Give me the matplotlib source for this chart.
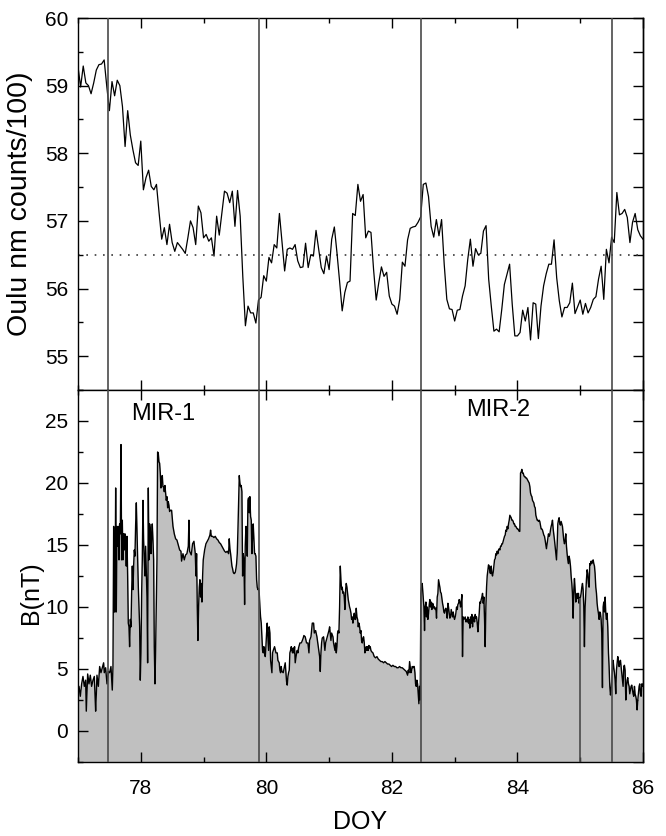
import numpy as np
import matplotlib
matplotlib.use("Agg")
import matplotlib.pyplot as plt
from matplotlib.ticker import MultipleLocator

plt.rcParams['font.family'] = ['Liberation Sans', 'DejaVu Sans']

# ---------------- data ----------------
# Oulu neutron monitor, hourly values starting at DOY 77.0 (counts/100)
oulu_start = 77.0
oulu_vals = [
    59.28, 58.98, 59.29, 59.04, 59.00, 58.88, 59.04, 59.23, 59.31, 59.32,
    59.38, 58.99, 58.63, 59.06, 58.85, 59.08, 59.00, 58.69, 58.10, 58.63,
    58.27, 58.05, 57.86, 57.82, 58.18, 57.46, 57.64, 57.75, 57.51, 57.46,
    57.54, 57.12, 56.73, 56.90, 56.65, 56.95, 56.68, 56.55, 56.68, 56.63,
    56.58, 56.52, 56.75, 57.00, 56.90, 56.65, 57.22, 57.12, 56.75, 56.80,
    56.70, 56.75, 56.48, 57.07, 56.79, 57.12, 57.44, 57.41, 57.27, 57.44,
    56.92, 57.45, 57.07, 56.18, 55.45, 55.74, 55.64, 55.64, 55.49, 55.83,
    55.87, 56.19, 56.11, 56.46,
    56.38, 56.65, 56.60, 57.11, 56.68, 56.26, 56.58, 56.60, 56.58, 56.65,
    56.41, 56.31, 56.32, 56.67, 56.31, 56.50, 56.48, 56.86, 56.58, 56.31,
    56.22, 56.48, 56.28, 56.73, 56.91, 56.53, 56.11, 55.67, 55.94, 56.09,
    56.11, 57.11, 57.08, 57.54, 57.29, 57.39, 56.75, 56.85, 56.83, 56.28,
    55.83, 56.09, 56.32, 56.18, 56.24, 55.89, 55.77, 55.74, 55.62, 55.84,
    56.39, 56.33, 56.72, 56.89, 56.91, 56.92, 56.98, 57.06, 57.54, 57.56,
    57.36, 56.92, 56.76, 57.02, 56.78, 57.02, 56.36, 55.84, 55.70, 55.69,
    55.52, 55.68, 55.69,
    55.89, 56.04, 56.43, 56.73, 56.33, 56.59, 56.50, 56.52, 56.85, 56.93,
    56.14, 55.74, 55.37, 55.40, 55.36, 55.69, 56.06, 56.21, 56.36, 55.77,
    55.30, 55.30, 55.35, 55.68, 55.52, 55.72, 55.24, 55.79, 55.77, 55.26,
    55.74, 56.04, 56.22, 56.36, 56.36, 56.72, 56.16, 55.82, 55.58, 55.72,
    55.72, 55.79, 56.08, 55.63, 55.73, 55.83, 55.62, 55.78, 55.64, 55.72,
    55.84, 55.88, 56.14, 56.33, 55.84, 56.58, 56.38, 56.76, 56.68, 57.42,
    57.09, 57.11, 57.17, 57.05, 56.68, 56.98, 57.11, 56.87, 56.78, 56.73,
]
oulu_ref = 56.5

# Magnetic field magnitude B (nT) versus DOY
b_doy = [
    77.000, 77.005, 77.016, 77.037, 77.058, 77.079, 77.101, 77.122, 77.132, 77.154,
    77.175, 77.196, 77.217, 77.239, 77.260, 77.281, 77.292, 77.302, 77.324, 77.345,
    77.366, 77.387, 77.408, 77.419, 77.440, 77.462, 77.483, 77.504, 77.525, 77.546,
    77.557, 77.568, 77.578, 77.589, 77.600, 77.610, 77.621, 77.631, 77.642, 77.653,
    77.663, 77.674, 77.685, 77.695, 77.706, 77.716, 77.727, 77.738, 77.748, 77.759,
    77.769, 77.780, 77.791, 77.801, 77.812, 77.822, 77.833, 77.844, 77.854, 77.865,
    77.876, 77.886, 77.897, 77.907, 77.918, 77.929, 77.939, 77.950, 77.961, 77.971,
    77.982, 77.992, 78.003, 78.014, 78.024, 78.035, 78.045, 78.056, 78.067, 78.077,
    78.088, 78.099, 78.109, 78.120, 78.130, 78.141, 78.152, 78.162, 78.173, 78.183,
    78.194, 78.205, 78.215, 78.226, 78.236, 78.247, 78.258, 78.268, 78.279, 78.290,
    78.300, 78.311, 78.321, 78.332, 78.343, 78.353, 78.364, 78.374, 78.385, 78.396,
    78.406, 78.417, 78.428, 78.438, 78.449, 78.459, 78.470, 78.491, 78.513, 78.534,
    78.555, 78.576, 78.597, 78.619, 78.640, 78.650, 78.672, 78.693, 78.714, 78.735,
    78.757, 78.767, 78.778,
    78.804, 78.825, 78.847, 78.868, 78.879, 78.889, 78.900, 78.910, 78.921, 78.932,
    78.942, 78.953, 78.963, 78.974, 78.985, 78.995, 79.017, 79.038, 79.059, 79.080,
    79.101, 79.112, 79.123, 79.144, 79.165, 79.186, 79.208, 79.229, 79.250, 79.271,
    79.293, 79.314, 79.335, 79.356, 79.377, 79.399, 79.409, 79.420, 79.431, 79.441,
    79.452, 79.462, 79.473, 79.484, 79.494, 79.505, 79.516, 79.526, 79.537, 79.547,
    79.558, 79.569, 79.579, 79.590, 79.600, 79.611, 79.622, 79.632, 79.643, 79.654,
    79.664, 79.675, 79.685, 79.696, 79.707, 79.717, 79.728, 79.738, 79.749, 79.760,
    79.770, 79.781, 79.791, 79.802, 79.813, 79.823, 79.834, 79.845, 79.855, 79.866,
    79.876, 79.887, 79.898, 79.908, 79.919, 79.930, 79.940, 79.951, 79.961, 79.972,
    79.983, 79.993, 80.004, 80.014, 80.025, 80.036, 80.046, 80.057, 80.068, 80.078,
    80.089, 80.099, 80.110, 80.131, 80.153, 80.174, 80.184, 80.205, 80.216, 80.227,
    80.237, 80.248, 80.269, 80.290, 80.301, 80.312, 80.322, 80.333, 80.344, 80.354,
    80.365, 80.375, 80.386, 80.397, 80.407, 80.418, 80.428, 80.439, 80.450, 80.460,
    80.471, 80.482, 80.492, 80.503, 80.513, 80.535, 80.556, 80.566, 80.588, 80.598,
    80.619, 80.641, 80.662,
    80.679, 80.689, 80.711, 80.732, 80.753, 80.764, 80.785, 80.806, 80.827, 80.849,
    80.859, 80.870, 80.880, 80.891, 80.912, 80.933, 80.944, 80.955, 80.976, 80.997,
    81.008, 81.018, 81.029, 81.040, 81.061, 81.071, 81.082, 81.093, 81.103, 81.114,
    81.125, 81.135, 81.146, 81.156, 81.167, 81.178, 81.188, 81.199, 81.209, 81.220,
    81.231, 81.241, 81.252, 81.263, 81.273, 81.284, 81.294, 81.305, 81.316, 81.326,
    81.337, 81.348, 81.358, 81.369, 81.379, 81.390, 81.401, 81.411, 81.422, 81.432,
    81.443, 81.454, 81.464, 81.475, 81.486, 81.496, 81.507, 81.517, 81.528, 81.539,
    81.549, 81.560, 81.570, 81.581, 81.592, 81.602, 81.613, 81.624, 81.634, 81.645,
    81.655, 81.666, 81.677, 81.698, 81.719, 81.740, 81.762, 81.783, 81.804, 81.825,
    81.846, 81.868, 81.889, 81.910, 81.931, 81.953, 81.974, 81.995, 82.016, 82.038,
    82.059, 82.080, 82.101, 82.122, 82.144, 82.165, 82.186, 82.207, 82.229, 82.250,
    82.260, 82.271, 82.282, 82.292, 82.303, 82.314, 82.324, 82.335, 82.345, 82.356,
    82.367, 82.377, 82.388, 82.398, 82.409, 82.420, 82.430, 82.441, 82.451, 82.462,
    82.473, 82.483,
    82.510, 82.520, 82.531, 82.542, 82.552, 82.563, 82.573, 82.584, 82.595, 82.605,
    82.616, 82.626, 82.637, 82.648, 82.658, 82.669, 82.680, 82.690, 82.701, 82.711,
    82.722, 82.733, 82.743, 82.754, 82.764, 82.775, 82.786, 82.796, 82.807, 82.818,
    82.828, 82.839, 82.849, 82.860, 82.871, 82.881, 82.892, 82.902, 82.913, 82.924,
    82.934, 82.945, 82.956, 82.966, 82.977, 82.987, 82.998, 83.009, 83.019, 83.030,
    83.041, 83.051, 83.062, 83.072, 83.083, 83.094, 83.104, 83.115, 83.125, 83.136,
    83.147, 83.157, 83.168, 83.179, 83.189, 83.200, 83.210, 83.221, 83.232, 83.242,
    83.253, 83.263, 83.274, 83.285, 83.295, 83.306, 83.317, 83.327, 83.338, 83.348,
    83.359, 83.370, 83.380, 83.391, 83.401, 83.412, 83.423, 83.433, 83.444, 83.455,
    83.465, 83.476, 83.486, 83.497, 83.508, 83.518, 83.529, 83.539, 83.550, 83.561,
    83.571, 83.582, 83.593, 83.603, 83.614, 83.624, 83.635, 83.646, 83.656, 83.667,
    83.677, 83.688, 83.699, 83.709, 83.720, 83.731, 83.741, 83.752, 83.762, 83.773,
    83.784, 83.794, 83.805, 83.815, 83.826, 83.837, 83.847, 83.858, 83.869, 83.879,
    83.890, 83.900, 83.911, 83.922, 83.932, 83.943, 83.953, 83.964, 83.975, 83.985,
    83.996, 84.007, 84.017, 84.028, 84.038, 84.049, 84.060, 84.070, 84.081, 84.092,
    84.102, 84.113, 84.123, 84.134, 84.145, 84.155, 84.166, 84.176, 84.187, 84.198,
    84.208, 84.219, 84.230, 84.240, 84.251, 84.261, 84.272, 84.283, 84.293, 84.304,
    84.314,
    84.324, 84.335, 84.346, 84.356, 84.367, 84.377, 84.388, 84.399, 84.409, 84.420,
    84.431, 84.441, 84.452, 84.462, 84.473, 84.484, 84.494, 84.505, 84.515, 84.526,
    84.537, 84.547, 84.558, 84.569, 84.579, 84.590, 84.600, 84.611, 84.622, 84.632,
    84.643, 84.653, 84.664, 84.675, 84.685, 84.696, 84.707, 84.717, 84.728, 84.738,
    84.749, 84.760, 84.770, 84.781, 84.791, 84.802, 84.813, 84.823, 84.834, 84.845,
    84.855, 84.866, 84.876, 84.887, 84.898, 84.908, 84.919, 84.929, 84.940, 84.951,
    84.961, 84.972, 84.983, 84.993, 85.004, 85.014, 85.025, 85.036, 85.046, 85.057,
    85.067, 85.078, 85.089, 85.099, 85.110, 85.120, 85.131, 85.142, 85.152, 85.163,
    85.174, 85.184, 85.195, 85.206, 85.216, 85.227, 85.237, 85.248, 85.259, 85.269,
    85.280, 85.290, 85.301, 85.312, 85.322, 85.333, 85.343, 85.354, 85.365, 85.375,
    85.386, 85.397, 85.407, 85.418, 85.428, 85.439, 85.450, 85.460, 85.471, 85.482,
    85.492, 85.503, 85.513, 85.524, 85.535, 85.545, 85.556, 85.566, 85.577, 85.588,
    85.598, 85.609, 85.619, 85.630, 85.641, 85.651, 85.662, 85.673, 85.683, 85.694,
    85.704, 85.715, 85.726, 85.736, 85.747, 85.757, 85.768, 85.779, 85.789, 85.800,
    85.810, 85.821, 85.832, 85.842, 85.853, 85.864, 85.874, 85.885, 85.895, 85.906,
    85.917, 85.927, 85.938, 85.948, 85.959, 85.970, 85.980, 85.991, 86.002,
]
b_nt = [
    4.8, 3.6, 3.6, 2.8, 3.8, 4.4, 3.6, 4.1, 1.6, 4.6,
    3.8, 4.5, 3.6, 4.1, 4.4, 1.6, 3.0, 4.5, 3.6, 5.2,
    4.7, 5.1, 5.5, 4.7, 5.1, 3.8, 4.8, 4.7, 5.2, 3.3,
    5.2, 16.5, 9.6, 9.6, 19.6, 9.6, 16.5, 14.9, 16.5, 13.8,
    16.7, 15.9, 23.1, 13.8, 17.0, 13.8, 15.9, 14.6, 15.9, 15.1,
    13.3, 15.7, 12.5, 8.7, 8.4, 6.8, 9.0, 8.4, 11.1, 13.3,
    11.4, 13.3, 14.6, 14.1, 16.6, 18.4, 16.2, 13.8, 11.6, 10.0,
    8.4, 4.1, 6.3, 11.1, 13.8, 18.6, 15.4, 13.8, 12.5, 14.9,
    13.0, 10.8, 5.5, 19.6, 13.8, 16.7, 16.2, 14.3, 15.7, 16.7,
    15.4, 13.8, 6.8, 3.8, 6.5, 10.0, 13.8, 22.5, 22.4, 21.7,
    21.6, 20.8, 19.6, 20.5, 20.6, 19.7, 19.7, 19.3, 19.8, 19.2,
    18.6, 18.9, 18.0, 18.5, 18.2, 17.7, 17.8, 17.8, 16.5, 15.9,
    15.5, 15.4, 15.0, 14.6, 14.5, 13.7, 14.3, 13.8, 14.2, 14.3,
    14.9, 17.0, 14.5,
    14.2, 15.1, 15.3, 14.3, 12.5, 14.3, 10.0, 7.3, 10.0, 11.6,
    12.2, 10.8, 11.9, 10.4, 12.5, 13.8, 14.6, 15.1, 15.3, 15.5,
    15.8, 16.2, 15.7, 15.7, 15.6, 15.7, 15.5, 15.4, 15.2, 15.1,
    14.9, 14.7, 14.5, 14.4, 14.5, 14.3, 15.5, 14.7, 14.3, 13.8,
    13.3, 13.1, 12.8, 12.7, 12.7, 12.8, 13.1, 13.5, 14.3, 16.1,
    18.4, 20.6, 20.0, 19.7, 19.8, 19.3, 12.5, 14.3, 13.8, 10.2,
    14.9, 16.5, 16.2, 14.1, 18.6, 18.8, 17.6, 18.9, 17.3, 17.0,
    14.3, 15.7, 16.7, 15.4, 14.3, 14.3, 14.1, 12.2, 11.6, 11.4,
    11.5, 11.1, 10.0, 9.2, 8.7, 7.6, 6.5, 6.3, 6.8, 6.3,
    6.0, 6.8, 7.9, 8.7, 7.6, 6.5, 8.4, 7.9, 5.7, 5.2,
    4.7, 6.3, 6.5, 6.8, 6.3, 6.3, 5.7, 5.5, 4.9, 4.7,
    5.2, 4.8, 4.7, 5.2, 5.5, 4.7, 4.0, 3.7, 4.4, 4.7,
    4.9, 6.3, 6.5, 6.8, 6.5, 6.3, 6.7, 6.3, 6.8, 5.5,
    5.9, 6.3, 6.5, 6.3, 6.7, 7.1, 7.1, 7.2, 7.5, 7.7,
    7.6, 7.1, 7.1,
    6.3, 7.3, 7.6, 8.7, 8.7, 7.9, 8.1, 7.6, 6.8, 6.0,
    4.8, 6.3, 7.1, 7.5, 7.6, 6.5, 7.1, 7.3, 7.7, 8.1,
    8.4, 7.9, 7.3, 7.9, 7.6, 7.1, 6.8, 6.5, 7.1, 6.3,
    6.8, 7.9, 8.1, 7.9, 10.0, 13.3, 12.2, 11.4, 11.6, 11.1,
    11.2, 10.8, 9.8, 11.4, 11.9, 11.6, 11.1, 10.6, 10.3, 10.0,
    9.8, 9.5, 9.0, 9.2, 8.7, 9.2, 9.5, 9.0, 9.0, 9.9,
    9.2, 9.0, 8.4, 8.7, 8.4, 7.9, 8.1, 7.3, 7.1, 7.5,
    7.6, 7.1, 6.3, 6.5, 6.8, 6.5, 6.8, 6.5, 6.9, 6.7,
    6.8, 6.5, 6.4, 6.3, 6.0, 5.9, 6.0, 5.8, 5.7, 5.6,
    5.6, 5.5, 5.6, 5.5, 5.4, 5.4, 5.3, 5.2, 5.3, 5.2,
    5.2, 5.1, 5.1, 5.2, 5.1, 5.1, 5.0, 4.9, 4.8, 4.5,
    4.9, 4.7, 5.6, 5.2, 4.7, 4.9, 5.2, 5.1, 5.2, 5.2,
    4.7, 3.8, 3.6, 4.1, 3.8, 3.0, 2.2, 3.6, 2.5, 11.1,
    11.6, 11.9,
    10.0, 8.1, 10.0, 10.4, 9.2, 10.0, 9.0, 9.5, 10.2, 10.6,
    10.0, 10.4, 9.8, 10.3, 10.2, 9.9, 10.0, 9.8, 9.9, 9.1,
    10.8, 11.1, 12.2, 11.9, 11.6, 11.2, 11.1, 10.7, 10.3, 10.0,
    9.6, 9.5, 9.8, 9.9, 9.6, 9.1, 10.3, 10.0, 9.5, 9.1,
    9.2, 9.8, 9.5, 9.2, 9.6, 9.2, 9.0, 9.2, 9.5, 10.0,
    9.8, 10.2, 10.3, 10.6, 10.4, 10.0, 10.4, 11.0, 6.0, 9.2,
    9.0, 9.1, 9.2, 8.8, 9.0, 8.8, 9.2, 8.7, 9.0, 8.3,
    9.2, 8.7, 9.4, 8.4, 9.0, 9.2, 8.8, 9.4, 9.1, 9.2,
    8.7, 8.0, 8.7, 9.5, 10.4, 10.3, 10.6, 10.8, 11.1, 10.3,
    10.8, 9.0, 6.8, 10.0, 11.6, 12.5, 13.0, 13.4, 13.3, 12.8,
    12.7, 13.3, 12.7, 12.5, 12.8, 13.3, 13.8, 13.9, 14.3, 14.2,
    14.5, 14.3, 14.6, 14.7, 14.6, 14.9, 14.9, 15.1, 15.1, 15.3,
    15.5, 15.7, 15.8, 16.2, 16.1, 16.5, 16.3, 16.7, 17.0, 17.4,
    17.3, 17.2, 17.0, 17.0, 16.9, 16.7, 16.7, 16.5, 16.5, 16.4,
    16.3, 16.3, 16.2, 16.1, 16.1, 20.8, 20.9, 21.1, 20.8, 20.8,
    20.6, 20.5, 20.5, 20.4, 20.4, 20.3, 20.2, 20.1, 20.0, 19.7,
    19.2, 19.0, 18.9, 18.6, 18.5, 18.4, 18.1, 18.0, 17.4, 17.2,
    17.0,
    17.0, 16.9, 17.0, 16.9, 16.6, 16.3, 16.3, 16.2, 16.0, 15.8,
    15.7, 15.4, 15.0, 14.7, 15.1, 15.5, 15.9, 15.7, 15.8, 16.2,
    16.5, 16.7, 17.0, 16.3, 15.9, 15.4, 14.9, 14.3, 13.8, 14.9,
    16.7, 17.0, 17.2, 16.7, 16.6, 16.9, 16.7, 16.5, 15.9, 15.4,
    15.1, 15.4, 15.9, 14.9, 14.3, 13.8, 13.5, 14.1, 13.8, 13.3,
    12.5, 11.9, 11.1, 9.1, 11.4, 12.3, 11.4, 10.4, 10.6, 11.1,
    10.7, 11.1, 10.3, 10.7, 10.8, 11.1, 11.6, 11.9, 11.4, 10.0,
    6.8, 10.0, 11.1, 12.2, 13.0, 12.7, 11.9, 11.6, 13.5, 13.4,
    13.7, 13.5, 13.7, 13.8, 13.5, 13.3, 12.7, 11.6, 11.1, 10.3,
    9.8, 9.5, 9.0, 9.6, 9.5, 9.0, 7.9, 3.5, 10.0, 10.4,
    9.6, 10.8, 9.5, 9.0, 9.5, 8.4, 6.3, 5.2, 3.6, 2.9,
    3.3, 4.1, 4.9, 5.7, 5.1, 4.7, 4.1, 3.0, 4.9, 5.5,
    6.0, 5.7, 5.2, 5.5, 5.7, 5.2, 4.7, 4.1, 3.6, 5.2,
    5.3, 4.9, 2.5, 3.6, 4.1, 4.3, 3.8, 3.6, 3.0, 3.3,
    3.6, 3.7, 3.3, 3.0, 2.8, 3.6, 3.0, 2.8, 2.5, 1.7,
    2.5, 3.0, 3.6, 3.8, 3.0, 2.8, 3.8, 3.6, 3.8,
]

event_lines = [77.47, 79.88, 82.46, 85.51]   # boundaries (DOY)
gap_lines = [85.0]                          # partial line in B panel
region_labels = ["MIR-1", "MIR-2"]
region_label_x = [78.35, 83.70]
region_label_y = [25.6, 25.9]

# ---------------- figure ----------------
W, H = 666, 836
fig = plt.figure(figsize=(W / 100, H / 100), dpi=100)
left, right = 78 / W, 643 / W
ax1 = fig.add_axes([left, 1 - 390 / H, right - left, (390 - 18) / H])
ax2 = fig.add_axes([left, 1 - 762 / H, right - left, (762 - 390) / H])

line_col = '#4a4a4a'
tick_fs = 15

oulu_doy = oulu_start + np.arange(len(oulu_vals)) / 24.0

# top panel
ax1.plot(oulu_doy, oulu_vals, color='black', lw=0.9, zorder=3)
ax1.axhline(oulu_ref, color='#3a3a3a', lw=1.2, ls=(0, (1.0, 4.0)), zorder=2)
for x in event_lines:
    ax1.axvline(x, color=line_col, lw=1.2, zorder=4)
ax1.set_xlim(77, 86)
ax1.set_ylim(54.5, 60)
ax1.yaxis.set_major_locator(MultipleLocator(1))
ax1.yaxis.set_minor_locator(MultipleLocator(0.5))
ax1.xaxis.set_major_locator(MultipleLocator(2))
ax1.xaxis.set_minor_locator(MultipleLocator(1))
ax1.tick_params(axis='x', labelbottom=False)
ax1.set_ylabel('Oulu nm counts/100)', fontsize=20.5)
ax1.yaxis.set_label_coords(-0.079, 0.5)

# bottom panel
ax2.set_xlim(77, 86)
ax2.set_ylim(-2.5, 27.5)
ybot = ax2.get_ylim()[0]
ax2.fill_between(b_doy, b_nt, ybot, color='#c0c0c0', lw=0, zorder=1)
ax2.plot(b_doy, b_nt, color='black', lw=1.0, zorder=3)
for x in event_lines:
    ax2.axvline(x, color=line_col, lw=1.2, zorder=4)
for x in gap_lines:
    ax2.vlines(x, ybot, np.interp(x, b_doy, b_nt), color=line_col, lw=1.2, zorder=4)
for t, x, y in zip(region_labels, region_label_x, region_label_y):
    ax2.text(x, y, t, fontsize=17, ha='center', va='center')
ax2.yaxis.set_major_locator(MultipleLocator(5))
ax2.yaxis.set_minor_locator(MultipleLocator(2.5))
ax2.xaxis.set_major_locator(MultipleLocator(2))
ax2.xaxis.set_minor_locator(MultipleLocator(1))
ax2.set_ylabel('B(nT)', fontsize=18)
ax2.yaxis.set_label_coords(-0.062, 0.456)
ax2.set_xlabel('DOY', fontsize=18)
ax2.xaxis.set_label_coords(0.5, -0.128)

for ax, step in ((ax1, 0.5), (ax2, 2.5)):
    ax.tick_params(which='both', direction='in', top=True, right=False,
                   labelsize=tick_fs, width=1.0)
    ax.tick_params(which='major', length=7.2)
    ax.tick_params(which='minor', length=3.6)
    ax.tick_params(axis='y', pad=7)
    ax.tick_params(axis='x', pad=12)
    for s in ax.spines.values():
        s.set_linewidth(1.0)
    sec = ax.secondary_yaxis('right')
    sec.yaxis.set_major_locator(MultipleLocator(step))
    sec.tick_params(direction='in', length=7.2, width=1.0, labelright=False)
    sec.spines['right'].set_linewidth(1.0)

fig.savefig('out.png', dpi=100)
